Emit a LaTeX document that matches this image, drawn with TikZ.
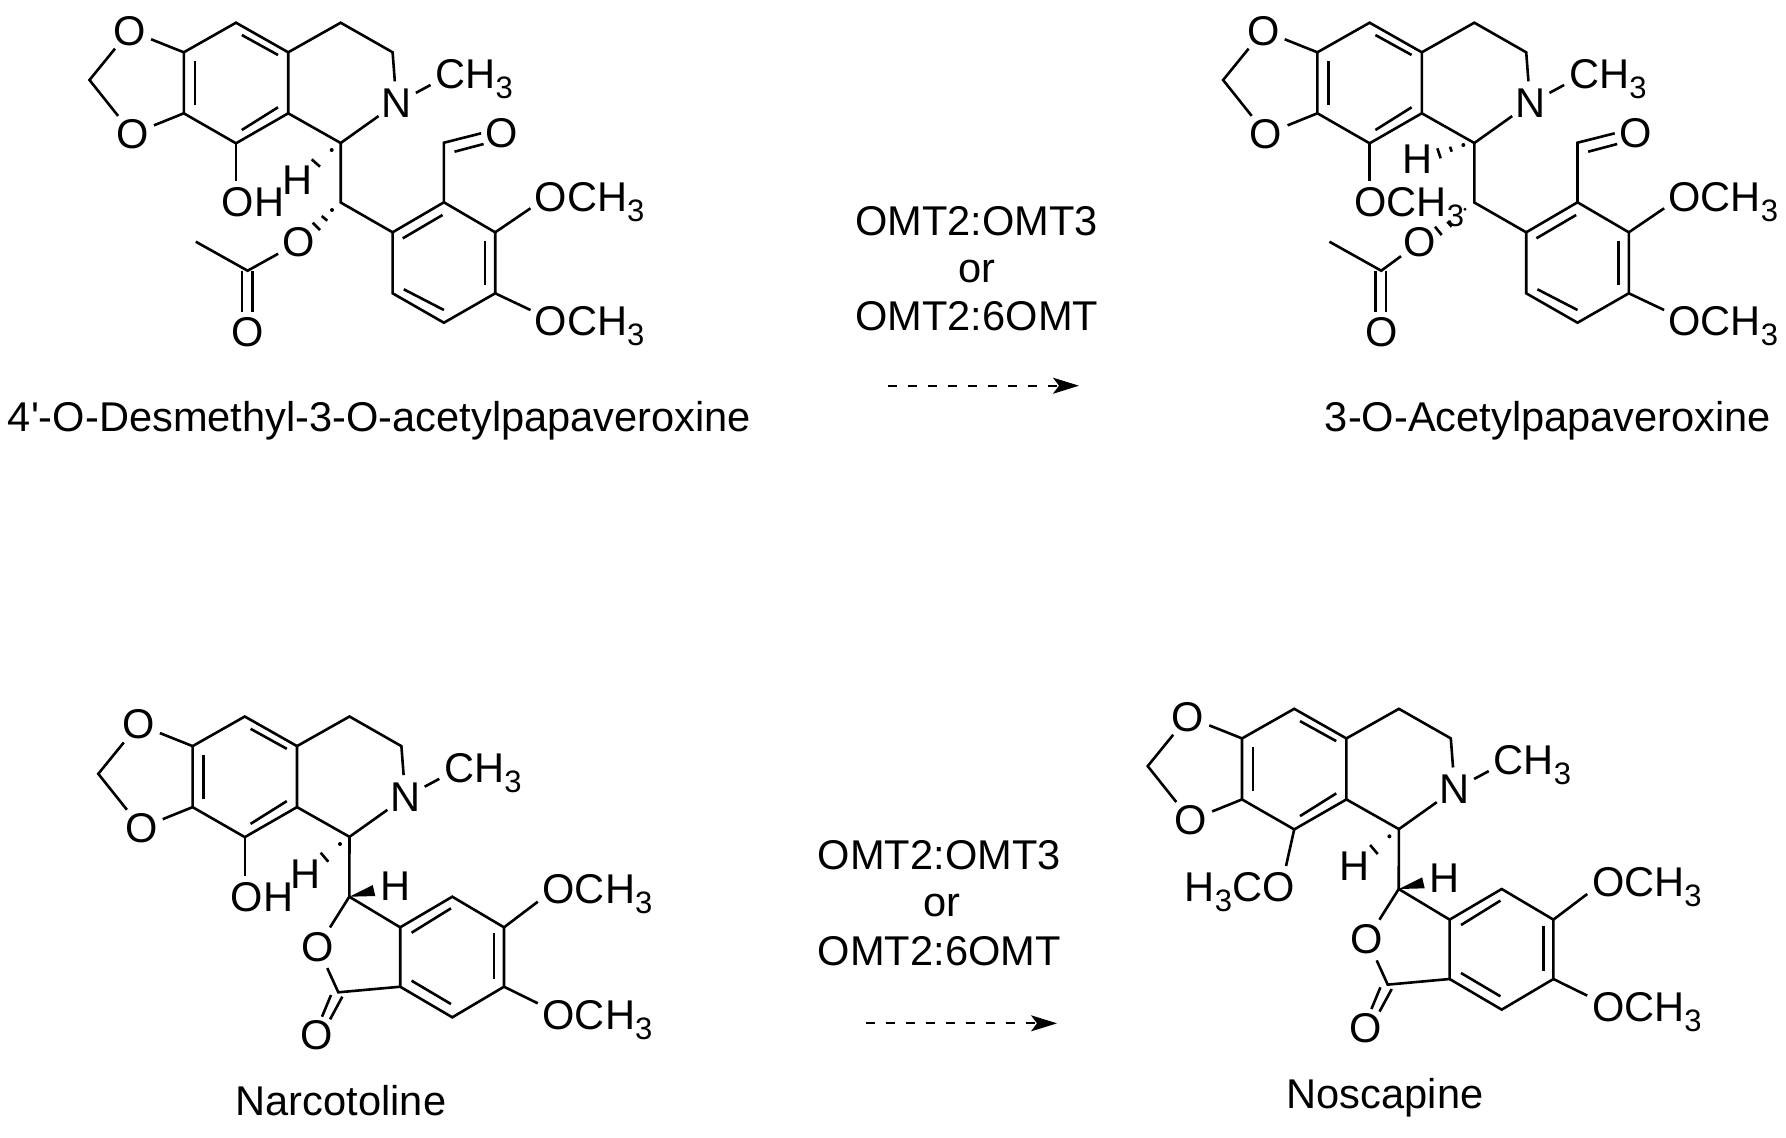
\documentclass[tikz,border=0pt]{standalone}
\usepackage{fontspec}
\setmainfont{Liberation Sans}
\newfontfamily\plainfont{Liberation Sans}
\usetikzlibrary{arrows.meta}
\newcommand{\lowsub}[1]{\raisebox{-5pt}{\fontsize{15.5}{18}\selectfont #1}}
\newcommand{\chemfont}{\fontsize{20.8}{24}\selectfont}
\tikzset{
  bond/.style={line width=1.3pt,line join=miter,line cap=butt},
  hashmark/.style={line width=1.3pt},
  atom/.style={circle,inner sep=0.3pt,font=\chemfont},
  txt/.style={inner sep=0,anchor=base west,font=\chemfont},
  caption/.style={inner sep=0,anchor=base,font=\chemfont},
  react/.style={dash pattern=on 4.5pt off 5.5pt,line width=1pt,-{Stealth[length=13pt,width=8pt,inset=3pt]}}
}
% isoquinoline + dioxole part
\newcommand{\isoq}[1]{%
  \coordinate (#1a) at (183.8,52.3);
  \coordinate (#1b) at (236,22.7);
  \coordinate (#1c) at (288.2,52.3);
  \coordinate (#1d) at (288.2,113.3);
  \coordinate (#1e) at (236,143.3);
  \coordinate (#1f) at (183.8,113.3);
  \coordinate (#1g) at (340.7,22.7);
  \coordinate (#1h) at (392.6,52.3);
  \coordinate (#1i) at (340.7,143);
  \coordinate (#1m) at (89.5,80);
  \coordinate (#1me) at (430.5,85);
  \node[atom] (#1N) at (396.5,103.3) {N};
  \node[atom] (#1Ot) at (129.6,30.7) {O};
  \node[atom] (#1Ob) at (132.5,134) {O};
  \node[txt] (#1ch) at (435.2,88.3) {CH\lowsub{3}};
  \draw[bond] (#1a)--(#1b)--(#1c)--(#1d)--(#1e)--(#1f)--cycle;
  \draw[bond] (#1c)--(#1g)--(#1h)--(#1N)--(#1i)--(#1d);
  \draw[bond] (#1N)--(#1me);
  \draw[bond] (#1a)--(#1Ot)--(#1m)--(#1Ob)--(#1f);
  \coordinate (#1p1) at (194.9,60.7); \coordinate (#1p2) at (194.9,105);
  \coordinate (#1p3) at (241.8,35);   \coordinate (#1p4) at (278,55);
  \coordinate (#1p5) at (241.8,130);  \coordinate (#1p6) at (278,107.3);
  \draw[bond] (#1p1)--(#1p2);
  \draw[bond] (#1p3)--(#1p4);
  \draw[bond] (#1p5)--(#1p6);
}
% aldehyde part of the seco compounds; #2 = x of the ester oxygen
\newcommand{\aldpart}[2]{%
  \coordinate (#1j) at (340.7,202.5);
  \coordinate (#1k) at (392.6,232.3);
  \coordinate (#1l) at (443.9,202.3);
  \coordinate (#1mm) at (495.2,232.3);
  \coordinate (#1n) at (495.2,293.3);
  \coordinate (#1o) at (443.9,322.7);
  \coordinate (#1q) at (392.6,293.3);
  \coordinate (#1cho) at (443.9,142.7);
  \coordinate (#1cho1) at (481.1,133.3);
  \coordinate (#1cho2) at (454.5,151.7);
  \coordinate (#1cho3) at (483.6,144);
  \coordinate (#1e1) at (530.5,208.3);
  \coordinate (#1e2) at (530.5,310);
  \coordinate (#1ac) at (247.6,270.7);
  \coordinate (#1acm) at (195.8,241.7);
  \coordinate (#1d1) at (241.8,270.7); \coordinate (#1d2) at (241.8,311.7);
  \coordinate (#1d3) at (252.4,270.7); \coordinate (#1d4) at (252.4,311.7);
  \coordinate (#1r1) at (402.8,238.3); \coordinate (#1r2) at (442.5,215);
  \coordinate (#1r3) at (485,240.7);   \coordinate (#1r4) at (485,285);
  \coordinate (#1r5) at (403.8,289.3); \coordinate (#1r6) at (443.9,310);
  \node[atom] (#1Oa) at (501.9,133.5) {O};
  \node[atom] (#1Oe) at (#2,242.5) {O};
  \node[atom] (#1Oc) at (248,332) {O};
  \node[txt] (#1om1) at (534.3,211) {OCH\lowsub{3}};
  \node[txt] (#1om2) at (534.3,335) {OCH\lowsub{3}};
  \draw[bond] (#1i)--(#1j)--(#1k);
  \draw[bond] (#1k)--(#1l)--(#1mm)--(#1n)--(#1o)--(#1q)--cycle;
  \draw[bond] (#1r1)--(#1r2);
  \draw[bond] (#1r3)--(#1r4);
  \draw[bond] (#1r5)--(#1r6);
  \draw[bond] (#1l)--(#1cho)--(#1cho1);
  \draw[bond] (#1cho2)--(#1cho3);
  \draw[bond] (#1mm)--(#1e1);
  \draw[bond] (#1n)--(#1e2);
  \draw[bond] (#1acm)--(#1ac)--(#1Oe);
  \draw[bond] (#1d1)--(#1d2);
  \draw[bond] (#1d3)--(#1d4);
}
% phthalide part of narcotoline and noscapine
\newcommand{\lacpart}[1]{%
  \coordinate (#1j) at (349.3,896.7);
  \coordinate (#1s1) at (400.2,927.3);
  \coordinate (#1s2) at (452.3,896.7);
  \coordinate (#1s3) at (504,927.3);
  \coordinate (#1s4) at (504,986.7);
  \coordinate (#1s5) at (452.3,1017.3);
  \coordinate (#1s6) at (400.2,986.7);
  \coordinate (#1cc) at (338.3,992.3);
  \coordinate (#1t1) at (411.6,932.7); \coordinate (#1t2) at (451,908.3);
  \coordinate (#1t3) at (493.8,933.3); \coordinate (#1t4) at (493.8,979);
  \coordinate (#1t5) at (411.6,980.7); \coordinate (#1t6) at (451,1004);
  \coordinate (#1u1) at (331,995);     \coordinate (#1u2) at (322,1016.7);
  \coordinate (#1u3) at (342.3,996.7); \coordinate (#1u4) at (330.1,1019.3);
  \coordinate (#1e1) at (537.8,901.7);
  \coordinate (#1e2) at (537.8,1003.3);
  \coordinate (#1w1) at (372.7,885);
  \coordinate (#1w2) at (375.3,896);
  \node[atom] (#1Ol) at (317.7,947) {O};
  \node[atom] (#1Oc) at (316.5,1035.5) {O};
  \node[txt] (#1om1) at (542.2,903.7) {OCH\lowsub{3}};
  \node[txt] (#1om2) at (542.2,1029.5) {OCH\lowsub{3}};
  \node[txt] (#1Ha) at (290,888.3) {H};
  \node[txt] (#1Hb) at (380,900) {H};
  \draw[bond] (#1i)--(#1j)--(#1s1);
  \fill (#1j)--(#1w1)--(#1w2)--cycle;
  \draw[bond] (#1s1)--(#1s2)--(#1s3)--(#1s4)--(#1s5)--(#1s6)--cycle;
  \draw[bond] (#1t1)--(#1t2);
  \draw[bond] (#1t3)--(#1t4);
  \draw[bond] (#1t5)--(#1t6);
  \draw[bond] (#1j)--(#1Ol)--(#1cc)--(#1s6);
  \draw[bond] (#1u1)--(#1u2);
  \draw[bond] (#1u3)--(#1u4);
  \draw[bond] (#1s3)--(#1e1);
  \draw[bond] (#1s4)--(#1e2);
  \fill (340,844) circle (1pt);
  \draw[hashmark] (320.7,852.7)--(328.3,861.7);
}
\begin{document}
\begin{tikzpicture}[x=0.5pt,y=-0.5pt]
\useasboundingbox (0,0) rectangle (1786,1137);
\fill[white] (0,0) rectangle (1786,1137);

% 4'-O-Desmethyl-3-O-acetylpapaveroxine
\isoq{A}
\aldpart{A}{298.4}
\node[txt] (Aoh) at (221.5,216.7) {OH};
\node[txt] (Ah) at (281.7,194) {H};
\coordinate (Aohb) at (236,181);
\draw[bond] (Ae)--(Aohb);
\fill (331.7,150) circle (1pt);
\draw[hashmark] (311.7,159.3)--(320,166.7);
\fill (332,210) circle (1pt);
\draw[hashmark] (321.7,216)--(327.3,220.7);
\draw[hashmark] (312.7,222.7)--(320,230);
\node[caption] (Alab) at (379.5,431.7) {\plainfont 4'-O-Desmethyl-3-O-acetylpapaveroxine};

% 3-O-Acetylpapaveroxine
\begin{scope}[shift={(1133.6,0)}]
\isoq{B}
\aldpart{B}{286}
\end{scope}
\node[txt] (Bome) at (1354,216.5) {OCH\lowsub{3}};
\node[txt] (Bh) at (1402.5,173.3) {H};
\coordinate (Bomeb) at (1369.6,181);
\draw[bond] (Be)--(Bomeb);
\fill (1463.3,145) circle (1pt);
\draw[hashmark] (1450,146.7)--(1451.7,151.7);
\draw[hashmark] (1437.3,148.3)--(1440.7,158.3);
\fill (1465,209.3) circle (0.8pt);
\draw[hashmark] (1447.3,221.7)--(1451.7,226.7);
\draw[hashmark] (1435,226.7)--(1441.7,235);
\node[caption] (Blab) at (1548,431.7) {3-O-Acetylpapaveroxine};

% Narcotoline
\begin{scope}[shift={(8.8,693.8)}]
\isoq{C}
\end{scope}
\lacpart{C}
\node[txt] (Coh) at (230.4,911.7) {OH};
\coordinate (Cohb) at (244.8,876);
\draw[bond] (Ce)--(Cohb);
\node[caption] (Clab) at (341,1115) {Narcotoline};

% Noscapine
\begin{scope}[shift={(1058.2,686.1)}]
\isoq{D}
\end{scope}
\begin{scope}[shift={(1049.4,-7.7)}]
\lacpart{D}
\end{scope}
\node[txt] (Dome) at (1184.5,901.7) {H\lowsub{3}CO};
\coordinate (Domeb) at (1286,866);
\draw[bond] (De)--(Domeb);
\node[caption] (Dlab) at (1385,1108) {Noscapine};

% reaction 1
\node[caption] (r1a) at (976.7,235) {OMT2:OMT3};
\node[caption] (r1b) at (976.7,282.7) {or};
\node[caption] (r1c) at (976.7,330) {OMT2:6OMT};
\coordinate (r1s) at (888.3,385.7);
\coordinate (r1e) at (1079,385.7);
\draw[react] (r1s)--(r1e);

% reaction 2
\node[caption] (r2a) at (939.2,869.3) {OMT2:OMT3};
\node[caption] (r2b) at (941.5,916.7) {or};
\node[caption] (r2c) at (939.2,965.3) {OMT2:6OMT};
\coordinate (r2s) at (865.7,1023.3);
\coordinate (r2e) at (1057,1023.3);
\draw[react] (r2s)--(r2e);
\end{tikzpicture}
\end{document}
